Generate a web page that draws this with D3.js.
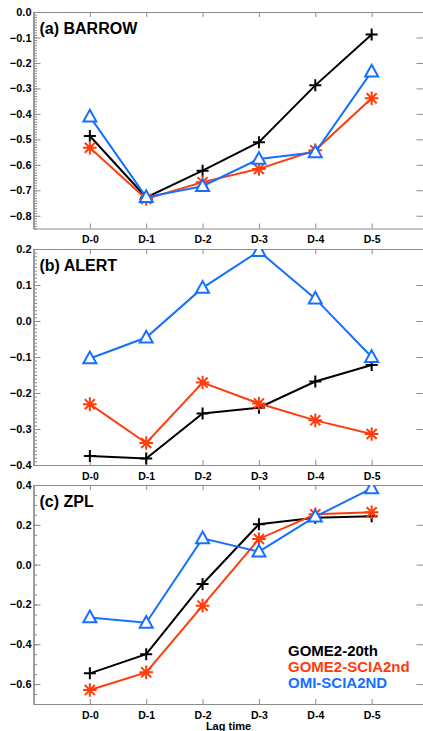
<!DOCTYPE html>
<html>
<head>
<meta charset="utf-8">
<script src="https://cdn.jsdelivr.net/npm/d3@7"></script>
<style>
  body { margin: 0; background: #fff; }
  text { font-family: "Liberation Sans", Arial, sans-serif; }
</style>
</head>
<body>
<div id="chart"></div>
<script>
// lag days on the x axis
var LAGS = ["D-0", "D-1", "D-2", "D-3", "D-4", "D-5"];
var SERIES_NAMES = ["GOME2-20th", "GOME2-SCIA2nd", "OMI-SCIA2ND"];
var PANEL_TITLES = ["(a) BARROW", "(b) ALERT", "(c) ZPL"];

// (a) BARROW
var barrowGome20 = [-0.487, -0.728, -0.623, -0.511, -0.288, -0.088];
var barrowGomeScia = [-0.533, -0.734, -0.668, -0.616, -0.543, -0.339];
var barrowOmiScia = [-0.411, -0.727, -0.684, -0.577, -0.551, -0.234];

// (b) ALERT
var alertGome20 = [-0.375, -0.382, -0.257, -0.241, -0.168, -0.122];
var alertGomeScia = [-0.231, -0.339, -0.171, -0.229, -0.276, -0.314];
var alertOmiScia = [-0.104, -0.046, 0.092, 0.194, 0.062, -0.1];

// (c) ZPL
var zplGome20 = [-0.546, -0.45, -0.097, 0.203, 0.236, 0.243];
var zplGomeScia = [-0.63, -0.541, -0.206, 0.129, 0.253, 0.263];
var zplOmiScia = [-0.265, -0.292, 0.132, 0.065, 0.241, 0.383];

// y axis ranges and tick labels
var Y_RANGE_A = [-0.85, 0.0];
var Y_RANGE_B = [-0.4, 0.2];
var Y_RANGE_C = [-0.7, 0.4];
var Y_TICKS_A = [0.0, -0.1, -0.2, -0.3, -0.4, -0.5, -0.6, -0.7, -0.8];
var Y_TICKS_B = [0.2, 0.1, 0.0, -0.1, -0.2, -0.3, -0.4];
var Y_TICKS_C = [0.4, 0.2, 0.0, -0.2, -0.4, -0.6];

var WIDTH = 423, HEIGHT = 731;
var LEFT = 33.5, RIGHT = 423.5;
var COLORS = ["#000000", "#ff3c0c", "#1670ff"];
var FRAME = "#8c8c8c";

var panels = [
  { title: PANEL_TITLES[0], top: 12, bottom: 228.5, range: Y_RANGE_A, ticks: Y_TICKS_A, minor: 0.01,
    series: [barrowGome20, barrowGomeScia, barrowOmiScia] },
  { title: PANEL_TITLES[1], top: 249, bottom: 465, range: Y_RANGE_B, ticks: Y_TICKS_B, minor: 0.01,
    series: [alertGome20, alertGomeScia, alertOmiScia] },
  { title: PANEL_TITLES[2], top: 485, bottom: 704, range: Y_RANGE_C, ticks: Y_TICKS_C, minor: 0.05,
    series: [zplGome20, zplGomeScia, zplOmiScia] }
];

// marker shapes: plus, asterisk, open triangle (size = half width)
var plusSymbol = {
  draw: function(ctx, r) {
    ctx.moveTo(-r, 0); ctx.lineTo(r, 0);
    ctx.moveTo(0, -r); ctx.lineTo(0, r);
  }
};
var starSymbol = {
  draw: function(ctx, r) {
    var d = r * 0.74;
    ctx.moveTo(-r, 0); ctx.lineTo(r, 0);
    ctx.moveTo(0, -r); ctx.lineTo(0, r);
    ctx.moveTo(-d, -d); ctx.lineTo(d, d);
    ctx.moveTo(-d, d); ctx.lineTo(d, -d);
  }
};
var triangleSymbol = {
  draw: function(ctx, r) {
    ctx.moveTo(0, -r * 1.05);
    ctx.lineTo(r, r * 0.75);
    ctx.lineTo(-r, r * 0.75);
    ctx.closePath();
  }
};
var SYMBOLS = [plusSymbol, starSymbol, triangleSymbol];
var SYMBOL_SIZE = [6, 6.8, 6.5];

var x = d3.scaleLinear()
  .domain([-1, 5.92])
  .range([LEFT, RIGHT]);

var svg = d3.select("#chart").append("svg")
  .attr("width", WIDTH)
  .attr("height", HEIGHT);

panels.forEach(function(p, pi) {
  var y = d3.scaleLinear().domain(p.range).range([p.bottom, p.top]);
  var g = svg.append("g");

  // clip marks to the plot box
  svg.append("clipPath").attr("id", "clip" + pi)
    .append("rect")
    .attr("x", LEFT).attr("y", p.top)
    .attr("width", RIGHT - LEFT).attr("height", p.bottom - p.top);

  var minorTicks = d3.range(Math.round(p.range[0] / p.minor), Math.round(p.range[1] / p.minor) + 1)
    .map(function(k) { return k * p.minor; });

  // left axis, minor then major
  g.append("g").attr("class", "frame")
    .attr("transform", "translate(" + LEFT + ",0)")
    .call(d3.axisLeft(y).tickValues(minorTicks).tickSize(-3.5).tickSizeOuter(0).tickFormat(""));
  g.append("g").attr("class", "frame ylab")
    .attr("transform", "translate(" + LEFT + ",0)")
    .call(d3.axisLeft(y).tickValues(p.ticks).tickSize(-7).tickSizeOuter(0).tickPadding(2)
      .tickFormat(d3.format(".1f")));

  // right axis
  g.append("g").attr("class", "frame")
    .attr("transform", "translate(" + RIGHT + ",0)")
    .call(d3.axisRight(y).tickValues(p.ticks).tickSize(-7).tickSizeOuter(0).tickFormat(""));

  // top and bottom axes
  g.append("g").attr("class", "frame")
    .attr("transform", "translate(0," + p.top + ")")
    .call(d3.axisTop(x).tickValues(d3.range(LAGS.length)).tickSize(-5).tickSizeOuter(0).tickFormat(""));
  g.append("g").attr("class", "frame xlab")
    .attr("transform", "translate(0," + p.bottom + ")")
    .call(d3.axisBottom(x).tickValues(d3.range(LAGS.length)).tickSize(-5).tickSizeOuter(0).tickPadding(7.5)
      .tickFormat(function(i) { return LAGS[i]; }));

  g.selectAll(".frame .domain").attr("stroke", FRAME).attr("stroke-width", 1.2);
  g.selectAll(".frame .tick line").attr("stroke", FRAME).attr("stroke-width", 1);
  g.selectAll(".ylab text")
    .attr("fill", "#000")
    .style("font-size", "11px")
    .style("font-weight", "bold");
  g.selectAll(".xlab text")
    .attr("fill", "#000")
    .style("font-size", "10.5px")
    .style("font-weight", "bold");

  // panel title
  g.append("text")
    .attr("x", 39.5)
    .attr("y", p.top + 22)
    .style("font-size", "16px")
    .style("font-weight", "bold")
    .text(p.title);

  var line = d3.line()
    .x(function(d, i) { return x(i); })
    .y(function(d) { return y(d); });

  var plot = g.append("g").attr("clip-path", "url(#clip" + pi + ")");

  p.series.forEach(function(values, si) {
    plot.append("path")
      .datum(values)
      .attr("d", line)
      .attr("fill", "none")
      .attr("stroke", COLORS[si])
      .attr("stroke-width", 2);

    plot.selectAll(".m" + si)
      .data(values)
      .enter().append("path")
      .attr("class", "m" + si)
      .attr("transform", function(d, i) { return "translate(" + x(i) + "," + y(d) + ")"; })
      .attr("d", d3.symbol().type(SYMBOLS[si]).size(SYMBOL_SIZE[si]))
      .attr("fill", si == 2 ? "#fff" : "none")
      .attr("stroke", COLORS[si])
      .attr("stroke-width", 2);
  });
});

// legend inside panel (c)
svg.selectAll(".legend")
  .data(SERIES_NAMES)
  .enter().append("text")
  .attr("class", "legend")
  .attr("x", 288)
  .attr("y", function(d, i) { return 655.5 + i * 16.3; })
  .attr("fill", function(d, i) { return COLORS[i]; })
  .style("font-size", "15px")
  .style("font-weight", "bold")
  .text(function(d) { return d; });

svg.append("text")
  .attr("x", (LEFT + RIGHT) / 2)
  .attr("y", 730)
  .attr("text-anchor", "middle")
  .style("font-size", "11px")
  .style("font-weight", "bold")
  .text("Lag time");
</script>
</body>
</html>
